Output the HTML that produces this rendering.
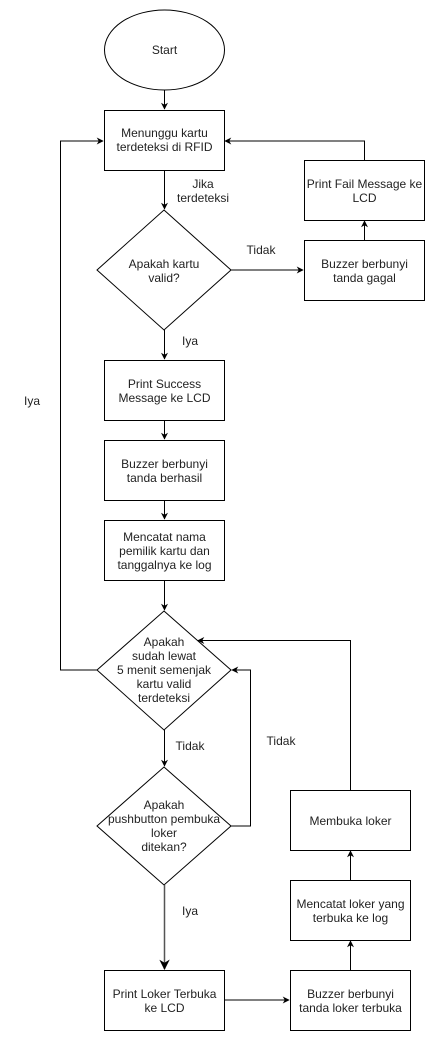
<!DOCTYPE html>
<html><head><style>body{margin:0;background:#fff}svg text{font-family:"Liberation Sans",Arial,sans-serif;font-size:12px;fill:#222}</style></head><body>
<svg width="441" height="1047" viewBox="0 0 441 1047" xmlns="http://www.w3.org/2000/svg">
<defs><marker id="a" viewBox="0 0 10 10" refX="9" refY="5" markerWidth="7" markerHeight="7" orient="auto"><path d="M0,0 L10,5 L0,10 L3,5 z" fill="#000"/></marker></defs>
<g fill="#fff" stroke="#000" stroke-width="1">
<ellipse cx="164.5" cy="50" rx="60" ry="40"/>
<rect x="104.5" y="110.5" width="120" height="60"/>
<rect x="304.5" y="160.5" width="120" height="60"/>
<rect x="304.5" y="240.5" width="120" height="60"/>
<polygon points="164,210 231,270 164,330 97,270"/>
<rect x="104.5" y="360.5" width="120" height="60"/>
<rect x="104.5" y="440.5" width="120" height="60"/>
<rect x="104.5" y="520.5" width="120" height="60"/>
<polygon points="164,611 231,670 164,730 97,670"/>
<polygon points="164,767 231,826 164,885 97,826"/>
<rect x="104.5" y="970.5" width="120" height="60"/>
<rect x="290.5" y="970.5" width="120" height="60"/>
<rect x="290.5" y="880.5" width="120" height="60"/>
<rect x="290.5" y="790.5" width="120" height="60"/>
</g>
<g fill="none" stroke="#000" stroke-width="1" marker-end="url(#a)">
<path d="M164.5 90 V109"/>
<path d="M164.5 171 V209"/>
<path d="M231 270 H303"/>
<path d="M364.5 240 V221"/>
<path d="M364.5 160 V141 H225"/>
<path d="M164.5 330 V359"/>
<path d="M164.5 421 V439"/>
<path d="M164.5 501 V519"/>
<path d="M164.5 581 V610"/>
<path d="M97 670 H60.5 V141 H103"/>
<path d="M164.5 730 V766"/>
<path d="M231 826 H250.5 V670 H232"/>
<path d="M164.5 885 V969" stroke="#555" stroke-width="1.5"/>
<path d="M225 1000 H289"/>
<path d="M350.5 970 V941"/>
<path d="M350.5 880 V851"/>
<path d="M350.5 790 V640.5 H198"/>
</g>
<g text-anchor="middle">
<text x="164.5" y="54">Start</text>
<text x="164.5" y="137">Menunggu kartu</text><text x="164.5" y="151">terdeteksi di RFID</text>
<text x="364.5" y="188">Print Fail Message ke</text><text x="364.5" y="202">LCD</text>
<text x="364.5" y="268">Buzzer berbunyi</text><text x="364.5" y="282">tanda gagal</text>
<text x="164" y="268">Apakah kartu</text><text x="164" y="282">valid?</text>
<text x="203" y="188">Jika</text><text x="203" y="202">terdeteksi</text>
<text x="261" y="254">Tidak</text>
<text x="190" y="345">Iya</text>
<text x="164.5" y="388">Print Success</text><text x="164.5" y="402">Message ke LCD</text>
<text x="164.5" y="468">Buzzer berbunyi</text><text x="164.5" y="482">tanda berhasil</text>
<text x="164.5" y="541">Mencatat nama</text><text x="164.5" y="555">pemilik kartu dan</text><text x="164.5" y="569">tanggalnya ke log</text>
<text x="164" y="646">Apakah</text><text x="164" y="660">sudah lewat</text><text x="164" y="674">5 menit semenjak</text><text x="164" y="688">kartu valid</text><text x="164" y="702">terdeteksi</text>
<text x="190" y="750">Tidak</text>
<text x="281" y="745">Tidak</text>
<text x="32" y="405">Iya</text>
<text x="164" y="809">Apakah</text><text x="164" y="823">pushbutton pembuka</text><text x="164" y="837">loker</text><text x="164" y="851">ditekan?</text>
<text x="190" y="915">Iya</text>
<text x="164.5" y="998">Print Loker Terbuka</text><text x="164.5" y="1012">ke LCD</text>
<text x="350.5" y="998">Buzzer berbunyi</text><text x="350.5" y="1012">tanda loker terbuka</text>
<text x="350.5" y="908">Mencatat loker yang</text><text x="350.5" y="922">terbuka ke log</text>
<text x="350.5" y="825">Membuka loker</text>
</g>
</svg>
</body></html>
